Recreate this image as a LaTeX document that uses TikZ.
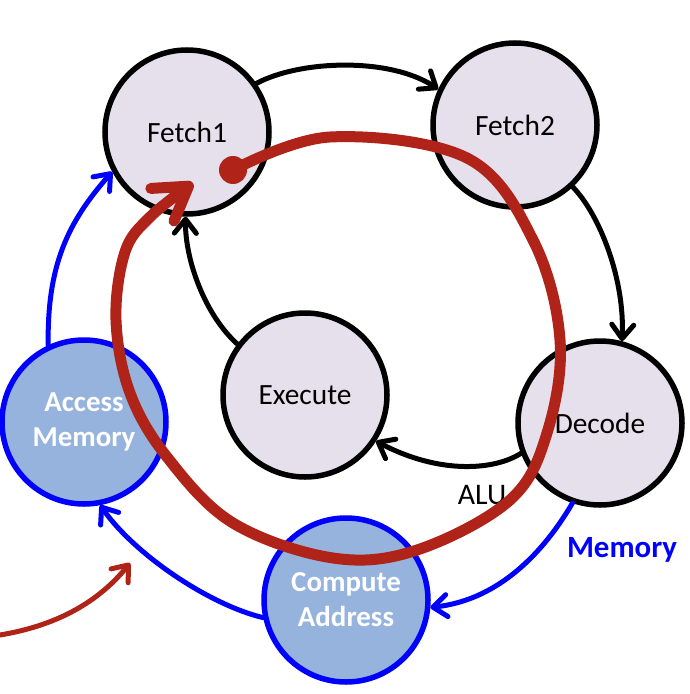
\documentclass[tikz,border=0pt]{standalone}
\usepackage{fontspec}
\setmainfont{Carlito}
\usetikzlibrary{arrows.meta}
\definecolor{lav}{RGB}{230,224,236}
\definecolor{lblue}{RGB}{149,179,221}
\definecolor{pblue}{RGB}{0,0,255}
\definecolor{dred}{RGB}{176,35,24}
\begin{document}
\begin{tikzpicture}[x=1bp,y=-1bp,
  state/.style={circle, draw=black, line width=5.5bp, fill=lav, minimum size=164bp, inner sep=0pt, font=\fontsize{29.5}{34}\selectfont},
  mstate/.style={circle, draw=pblue, line width=5.5bp, fill=lblue, minimum size=164bp, inner sep=0pt, text=white, align=center, font=\bfseries\fontsize{29}{35}\selectfont},
  blk/.style={draw=black, line width=5bp, line cap=round, -{Straight Barb[length=14bp,width=22bp,round]}},
  blu/.style={draw=pblue, line width=5bp, line cap=round, -{Straight Barb[length=14bp,width=22bp,round]}},
  redthin/.style={draw=dred, line width=5bp, line cap=round, -{Straight Barb[length=14bp,width=22bp,round]}},
  redpath/.style={draw=dred, line width=11bp, line cap=round, line join=round, -{Straight Barb[length=32bp,width=40bp,round]}},
  lbl/.style={font=\fontsize{30}{36}\selectfont, anchor=base}
]
\path[use as bounding box] (0,0) rectangle (690,694);

\node[state] (f1) at (187,132) {Fetch1};
\node[state] (f2) at (515,125) {Fetch2};
\node[state] (dec) at (600,423) {Decode};
\node[state] (ex) at (305,395) {Execute};
\node[mstate] (am) at (84,422) {Access\\Memory};
\node[mstate] (ca) at (346,600) {Compute\\Address};

\node[lbl] (alu) at (482,504) {ALU};
\node[anchor=base, text=pblue, font=\bfseries\fontsize{31}{36}\selectfont] (mem) at (622,557) {Memory};

\draw[blk] (f1.35) .. controls (300,60) and (390,57) .. (f2.155);
\draw[blk] (f2.-47) .. controls (600,215) and (625,280) .. (dec.75);
\draw[blk] (dec.201) .. controls (495,470) and (440,475) .. (ex.-33);
\draw[blk] (ex.143) .. controls (205,315) and (185,260) .. (f1.-91);

\draw[blu] (dec.251) .. controls (545,550) and (500,600) .. (ca.-5);
\draw[blu] (ca.192) .. controls (210,605) and (135,555) .. (am.-79);
\draw[blu] (am.115) .. controls (47,265) and (68,222) .. (f1.208);

\coordinate (rs) at (0,635);
\coordinate (re) at (130,563);
\draw[redthin] (rs) .. controls (60,625) and (100,600) .. (re);

\coordinate (dot) at (233,170);
\fill[dred] (dot) circle[radius=14bp];
\draw[redpath] plot[smooth, tension=0.6] coordinates {(233,170) (330,137) (467,158) (533,240) (560,340) (547,433) (510,500) (417,550) (333,558) (233,523) (167,457) (130,393) (116,320) (125,252) (150,217) (193,183)};
\end{tikzpicture}
\end{document}
